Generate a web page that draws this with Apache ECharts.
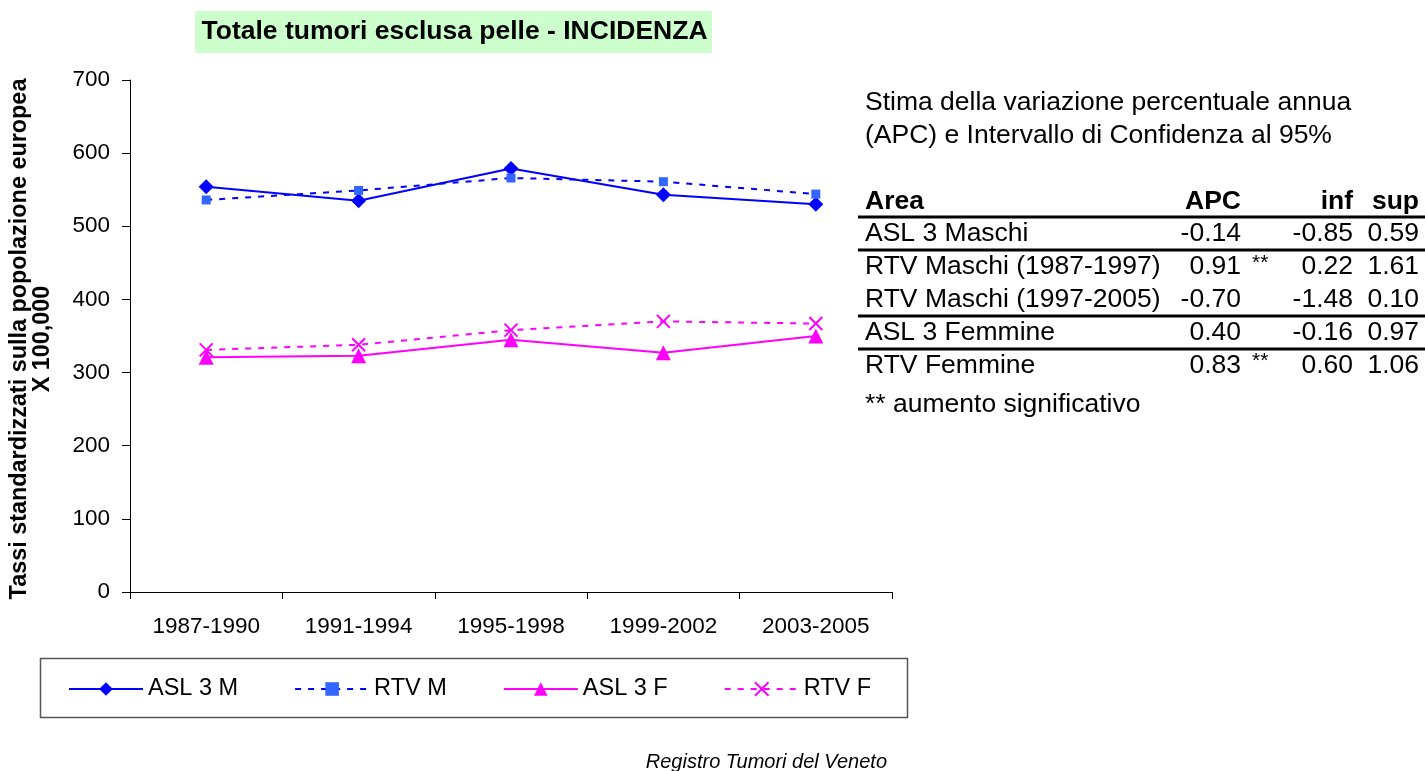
<!DOCTYPE html>
<html>
<head>
<meta charset="utf-8">
<script src="https://cdn.jsdelivr.net/npm/echarts@6/dist/echarts.min.js"></script>
<style>
html,body{margin:0;padding:0;background:#fff;}
#chart{width:1425px;height:771px;}
</style>
</head>
<body>
<div id="chart"></div>
<script>
// ---- data ----
const categories = ['1987-1990', '1991-1994', '1995-1998', '1999-2002', '2003-2005'];
const seriesNames = ['ASL 3 M', 'RTV M', 'ASL 3 F', 'RTV F'];
const asl3M = [554, 535, 579, 543, 530];
const rtvM = [536, 549, 566, 561, 544];
const asl3F = [321, 323, 345, 327, 350];
const rtvF = [331, 338, 358, 370, 367];
const yMin = 0, yMax = 700, yInterval = 100;

const titleText = 'Totale tumori esclusa pelle - INCIDENZA';
const yNameLines = ['Tassi standardizzati sulla popolazione europea', 'X 100,000'];
const noteLines = ['Stima della variazione percentuale annua', '(APC) e Intervallo di Confidenza al 95%'];
const tableHeader = ['Area', 'APC', 'inf', 'sup'];
const tableAreas = ['ASL 3 Maschi', 'RTV Maschi (1987-1997)', 'RTV Maschi (1997-2005)', 'ASL 3 Femmine', 'RTV Femmine'];
const tableAPC = ['-0.14', '0.91', '-0.70', '0.40', '0.83'];
const tableSig = ['', '**', '', '', '**'];
const tableInf = ['-0.85', '0.22', '-1.48', '-0.16', '0.60'];
const tableSup = ['0.59', '1.61', '0.10', '0.97', '1.06'];
const sigNote = '** aumento significativo';
const footer = 'Registro Tumori del Veneto';

// ---- styles ----
const FONT = '"Liberation Sans", Arial, sans-serif';
const BLUE = '#0000FF', LBLUE = '#3366FF', MAG = '#FF00FF';
const TXT = 26.5;

const chart = echarts.init(document.getElementById('chart'), null, {renderer: 'canvas'});

const graphics = [];
// title box
graphics.push({type: 'rect', shape: {x: 195, y: 11, width: 517, height: 42}, style: {fill: '#CCFFCC'}, z: 0});
graphics.push({type: 'text', x: 454.5, y: 32, style: {text: titleText, font: 'bold 26.5px ' + FONT, fill: '#000', textAlign: 'center', textVerticalAlign: 'middle'}});
// y axis name
yNameLines.forEach((t, i) => {
  graphics.push({type: 'text', x: 20 + i * 23, y: 339, rotation: Math.PI / 2,
    style: {text: t, font: 'bold 23.4px ' + FONT, fill: '#000', textAlign: 'center', textVerticalAlign: 'middle'}});
});
// legend box
graphics.push({type: 'rect', shape: {x: 40.5, y: 658.5, width: 867, height: 59}, style: {fill: 'none', stroke: '#555', lineWidth: 1.5}});
// note text
noteLines.forEach((t, i) => {
  graphics.push({type: 'text', x: 865, y: 103 + i * 33, style: {text: t, font: TXT + 'px ' + FONT, fill: '#000', textVerticalAlign: 'middle'}});
});
// table
const colAreaX = 865, colApcR = 1241, colSigX = 1252, colInfR = 1353, colSupR = 1419;
const headY = 202, rowY0 = 234, rowStep = 32.8;
const bold = 'bold ' + TXT + 'px ' + FONT, reg = TXT + 'px ' + FONT;
graphics.push({type: 'text', x: colAreaX, y: headY, style: {text: tableHeader[0], font: bold, fill: '#000', textVerticalAlign: 'middle'}});
graphics.push({type: 'text', x: colApcR, y: headY, style: {text: tableHeader[1], font: bold, fill: '#000', textAlign: 'right', textVerticalAlign: 'middle'}});
graphics.push({type: 'text', x: colInfR, y: headY, style: {text: tableHeader[2], font: bold, fill: '#000', textAlign: 'right', textVerticalAlign: 'middle'}});
graphics.push({type: 'text', x: colSupR, y: headY, style: {text: tableHeader[3], font: bold, fill: '#000', textAlign: 'right', textVerticalAlign: 'middle'}});
tableAreas.forEach((a, i) => {
  const y = rowY0 + i * rowStep;
  graphics.push({type: 'text', x: colAreaX, y: y, style: {text: a, font: reg, fill: '#000', textVerticalAlign: 'middle'}});
  graphics.push({type: 'text', x: colApcR, y: y, style: {text: tableAPC[i], font: reg, fill: '#000', textAlign: 'right', textVerticalAlign: 'middle'}});
  if (tableSig[i]) graphics.push({type: 'text', x: colSigX, y: y - 4, style: {text: tableSig[i], font: '21px ' + FONT, fill: '#000', textVerticalAlign: 'middle'}});
  graphics.push({type: 'text', x: colInfR, y: y, style: {text: tableInf[i], font: reg, fill: '#000', textAlign: 'right', textVerticalAlign: 'middle'}});
  graphics.push({type: 'text', x: colSupR, y: y, style: {text: tableSup[i], font: reg, fill: '#000', textAlign: 'right', textVerticalAlign: 'middle'}});
});
[217, 250, 316, 349].forEach(y => {
  graphics.push({type: 'line', shape: {x1: 858, y1: y, x2: 1425, y2: y}, style: {stroke: '#000', lineWidth: 3}});
});
graphics.push({type: 'text', x: 865, y: 405, style: {text: sigNote, font: reg, fill: '#000', textVerticalAlign: 'middle'}});
graphics.push({type: 'text', x: 887, y: 762, style: {text: footer, font: 'italic 20px ' + FONT, fill: '#000', textAlign: 'right', textVerticalAlign: 'middle'}});

const crossPath = 'path://M0,0L10,10M10,0L0,10';

const option = {
  backgroundColor: '#fff',
  animation: false,
  textStyle: {fontFamily: FONT},
  grid: {left: 130, right: 533, top: 80, bottom: 179, containLabel: false},
  xAxis: {
    type: 'category', data: categories, boundaryGap: true,
    axisLine: {lineStyle: {color: '#000', width: 1}},
    axisTick: {show: true, length: 7, lineStyle: {color: '#000'}, alignWithLabel: false},
    axisLabel: {color: '#000', fontSize: 22.5, margin: 23, fontFamily: FONT},
    splitLine: {show: false}
  },
  yAxis: {
    type: 'value', min: yMin, max: yMax, interval: yInterval,
    axisLine: {show: true, lineStyle: {color: '#000', width: 1}},
    axisTick: {show: true, length: 8, lineStyle: {color: '#000'}},
    axisLabel: {color: '#000', fontSize: 22.5, margin: 20, fontFamily: FONT},
    splitLine: {show: false}
  },
  legend: {
    data: seriesNames,
    left: 68, top: 677,
    itemWidth: 74, itemHeight: 17, itemGap: 56,
    textStyle: {fontSize: 23.5, color: '#000', fontFamily: FONT},
    padding: 0
  },
  graphic: graphics,
  series: [
    {name: seriesNames[0], type: 'line', data: asl3M, symbol: 'diamond', symbolSize: 15,
      lineStyle: {color: BLUE, width: 2}, itemStyle: {color: BLUE}},
    {name: seriesNames[1], type: 'line', data: rtvM, symbol: 'rect', symbolSize: 9,
      lineStyle: {color: BLUE, width: 2, type: [6, 7]}, itemStyle: {color: LBLUE}},
    {name: seriesNames[2], type: 'line', data: asl3F, symbol: 'triangle', symbolSize: 15,
      lineStyle: {color: MAG, width: 2}, itemStyle: {color: MAG}},
    {name: seriesNames[3], type: 'line', data: rtvF, symbol: crossPath, symbolSize: 13,
      lineStyle: {color: MAG, width: 2, type: [6, 7]}, itemStyle: {color: 'none', borderColor: MAG, borderWidth: 2}}
  ]
};
chart.setOption(option);
</script>
</body>
</html>
